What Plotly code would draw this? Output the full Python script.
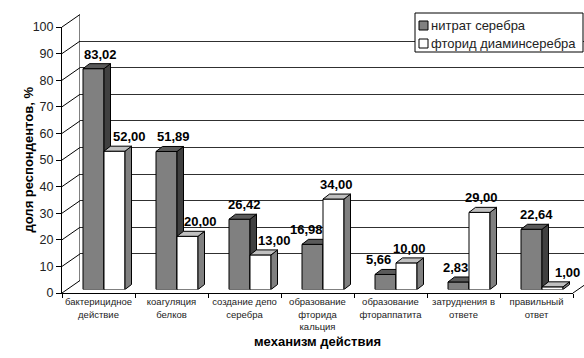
import plotly.graph_objects as go

# ---------------- data ----------------
categories = ["бактерицидное<br>действие", "коагуляция<br>белков", "создание депо<br>серебра",
              "образование<br>фторида<br>кальция", "образование<br>фтораппатита",
              "затруднения в<br>ответе", "правильный<br>ответ"]
series_names = ["нитрат серебра", "фторид диаминсеребра"]
silver_nitrate = [83.02, 51.89, 26.42, 16.98, 5.66, 2.83, 22.64]
silver_diamine_fluoride = [52.00, 20.00, 13.00, 34.00, 10.00, 29.00, 1.00]
y_ticks = list(range(0, 101, 10))
x_title = "механизм действия"
y_title = "доля респондентов, %"

# ---------------- geometry / style ----------------
W, H = 584, 358
FONT = "Liberation Sans, Arial, sans-serif"
PX_PER_UNIT_Y = 2.66
CAT_PX = 73.0
front_x0, front_x1, front_y0 = 62, 573, 293      # front plane (axis)
bar_dx, bar_dy = 5.5, -3.5                         # bar plane offset
back_dx, back_dy = 18, -12.5                       # back wall offset
BAR_W = 21 / CAT_PX
DDX = 6.5 / CAT_PX
DDY = 5 / PX_PER_UNIT_Y
label_xshift_a = [3.5, 4, 1.5, -9, -10.5, -6, 2]
label_xshift_b = [11.5, 9.5, 10.5, 0, -0.5, -1.5, 12]
front_colors = ["#808080", "#ffffff"]
side_colors = ["#404040", "#808080"]
top_colors = ["#5a5a5a", "#c0c0c0"]

def px(x):
    return x / W

def py(y):
    return 1 - y / H

def ydom(y0):
    return [py(y0), py(y0 - 100 * PX_PER_UNIT_Y)]

n = len(categories)
xr = [-0.5, n - 0.5]

fig = go.Figure()

def faces(vals, offset):
    sx, sy, tx, ty = [], [], [], []
    for i, v in enumerate(vals):
        L = i + offset
        R = L + BAR_W
        sx += [R, R + DDX, R + DDX, R, R, None]
        sy += [0, DDY, v + DDY, v, 0, None]
        tx += [L, L + DDX, R + DDX, R, L, None]
        ty += [v, v + DDY, v + DDY, v, v, None]
    return sx, sy, tx, ty

for k, (vals, off, ax) in enumerate([(silver_nitrate, -BAR_W, "2"),
                                     (silver_diamine_fluoride, 0.0, "3")]):
    xs = [i + off + BAR_W / 2 for i in range(n)]
    fig.add_trace(go.Bar(x=xs, y=vals, width=BAR_W, name=series_names[k],
                         marker=dict(color=front_colors[k], line=dict(color="#000", width=1)),
                         xaxis="x" + ax, yaxis="y" + ax, showlegend=False))
    sx, sy, tx, ty = faces(vals, off)
    fig.add_trace(go.Scatter(x=sx, y=sy, fill="toself", fillcolor=side_colors[k], mode="lines",
                             line=dict(color="#000", width=1), xaxis="x" + ax, yaxis="y" + ax,
                             showlegend=False, hoverinfo="skip"))
    fig.add_trace(go.Scatter(x=tx, y=ty, fill="toself", fillcolor=top_colors[k], mode="lines",
                             line=dict(color="#000", width=1), xaxis="x" + ax, yaxis="y" + ax,
                             showlegend=False, hoverinfo="skip"))

# front axis (x4/y4) and back wall (x/y): invisible traces so axes exist
fig.add_trace(go.Scatter(x=[None], y=[None], xaxis="x4", yaxis="y4", showlegend=False))
fig.add_trace(go.Scatter(x=[None], y=[None], xaxis="x", yaxis="y", showlegend=False))

hidden = dict(visible=True, showgrid=False, zeroline=False, showticklabels=False,
              ticks="", showline=False, fixedrange=True, automargin=False)

bar_xdom = [px(front_x0 + bar_dx), px(front_x1 + bar_dx)]
bar_ydom = ydom(front_y0 + bar_dy)

fig.update_layout(
    template="none",
    width=W, height=H,
    margin=dict(l=0, r=0, t=0, b=0, pad=0),
    paper_bgcolor="white", plot_bgcolor="rgba(0,0,0,0)",
    font=dict(family=FONT, color="#000"),
    barmode="overlay",
    showlegend=False,
    xaxis=dict(domain=[px(front_x0 + back_dx), 1], range=xr, **hidden),
    yaxis=dict(domain=ydom(front_y0 + back_dy), range=[0, 100], showgrid=True,
               gridcolor="#303030", gridwidth=1, tickvals=y_ticks, showticklabels=False,
               ticks="", zeroline=False, showline=True, linecolor="#808080",
               fixedrange=True, automargin=False),
    xaxis2=dict(domain=bar_xdom, range=xr, anchor="y2", **hidden),
    yaxis2=dict(domain=bar_ydom, range=[0, 100], anchor="x2", **hidden),
    xaxis3=dict(domain=bar_xdom, range=xr, anchor="y3", **hidden),
    yaxis3=dict(domain=bar_ydom, range=[0, 100], anchor="x3", **hidden),
    xaxis4=dict(domain=[px(front_x0), px(front_x1)], range=xr, anchor="y4",
                tickvals=list(range(n)), ticktext=categories, ticks="",
                tickfont=dict(size=9.5, color="#222"), showgrid=False, zeroline=False,
                showline=True, linecolor="#000", linewidth=1,
                minor=dict(tickvals=[i - 0.5 for i in range(n + 1)], ticks="outside",
                           ticklen=4, tickcolor="#000", showgrid=False),
                fixedrange=True, automargin=False),
    yaxis4=dict(domain=ydom(front_y0), range=[0, 100], anchor="x4",
                tickvals=y_ticks, ticks="outside", ticklen=5, tickcolor="#000",
                tickfont=dict(size=12.5, color="#222"), showgrid=False, zeroline=False,
                showline=True, linecolor="#000", linewidth=1, fixedrange=True,
                automargin=False),
)

shapes = []
# side wall diagonals (from front tick to back wall)
for v in y_ticks:
    yf = front_y0 - v * PX_PER_UNIT_Y
    shapes.append(dict(type="line", xref="paper", yref="paper",
                       x0=px(front_x0), y0=py(yf),
                       x1=px(front_x0 + back_dx), y1=py(yf + back_dy),
                       line=dict(color="#000", width=1)))
# right floor diagonal
shapes.append(dict(type="line", xref="paper", yref="paper",
                   x0=px(front_x1), y0=py(front_y0),
                   x1=1, y1=py(front_y0 + back_dy * (W - front_x1) / back_dx),
                   line=dict(color="#000", width=1)))

# legend box (drawn manually, Excel style)
LEG_X0, LEG_X1, LEG_Y0, LEG_Y1 = 415, 583, 13, 52
leg_rows = [25.5, 43.5]
shapes.append(dict(type="rect", xref="paper", yref="paper",
                   x0=px(LEG_X0), x1=px(LEG_X1), y0=py(LEG_Y1), y1=py(LEG_Y0),
                   fillcolor="white", line=dict(color="#000", width=1), layer="above"))
ann = []
for k, yc in enumerate(leg_rows):
    shapes.append(dict(type="rect", xref="paper", yref="paper",
                       x0=px(LEG_X0 + 4), x1=px(LEG_X0 + 13),
                       y0=py(yc + 4.5), y1=py(yc - 4.5),
                       fillcolor=front_colors[k], line=dict(color="#000", width=1),
                       layer="above"))
    ann.append(dict(x=px(LEG_X0 + 14), y=py(yc), xref="paper", yref="paper",
                    text=series_names[k], showarrow=False, xanchor="left", yanchor="middle",
                    font=dict(size=13, family=FONT, color="#222")))
fig.update_layout(shapes=shapes)

# value labels
for i, v in enumerate(silver_nitrate):
    ann.append(dict(x=i - BAR_W / 2 + DDX / 2, y=v + DDY, xref="x2", yref="y2",
                    text=f"{v:.2f}".replace(".", ","), showarrow=False,
                    yanchor="bottom", xshift=label_xshift_a[i], yshift=0,
                    font=dict(size=13, family=FONT, color="#000", weight="bold")))
for i, v in enumerate(silver_diamine_fluoride):
    ann.append(dict(x=i + BAR_W / 2 + DDX / 2, y=v + DDY, xref="x3", yref="y3",
                    text=f"{v:.2f}".replace(".", ","), showarrow=False,
                    yanchor="bottom", xshift=label_xshift_b[i], yshift=0,
                    font=dict(size=13, family=FONT, color="#000", weight="bold")))
ann.append(dict(x=px(317), y=py(351), xref="paper", yref="paper", text=f"<b>{x_title}</b>",
                showarrow=False, font=dict(size=13, family=FONT, color="#000")))
ann.append(dict(x=px(18), y=py(160), xref="paper", yref="paper", text=f"<b>{y_title}</b>",
                showarrow=False, textangle=-90, font=dict(size=13, family=FONT, color="#000")))
fig.update_layout(annotations=ann)

fig.write_html("out.html")
